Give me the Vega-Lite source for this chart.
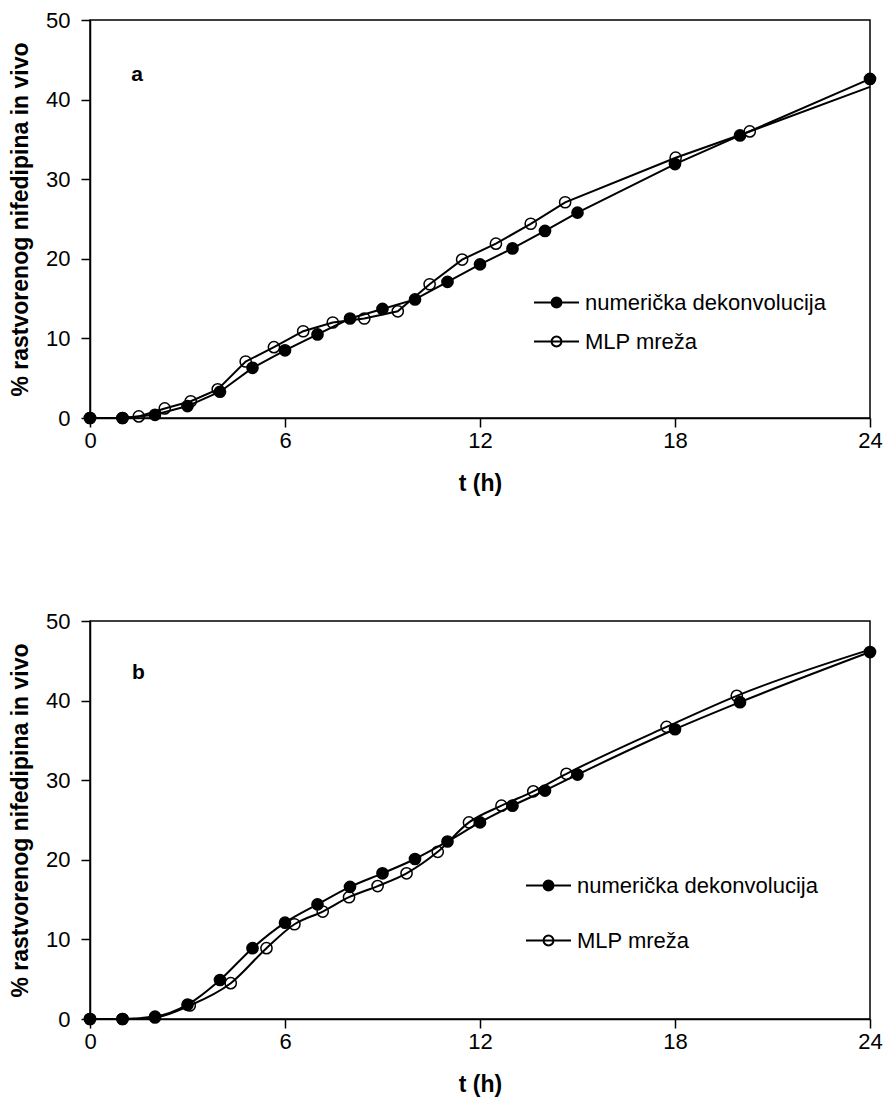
{
  "$schema": "https://vega.github.io/schema/vega-lite/v6.json",
  "background": "white",
  "padding": {"left": 8, "top": 8, "right": 15, "bottom": 5},
  "config": {
    "font": "Liberation Sans",
    "view": {"stroke": "black", "strokeWidth": 1.5},
    "axis": {
      "domainColor": "black", "domainWidth": 1.5, "tickColor": "black", "tickWidth": 1.5, "tickSize": 9,
      "labelColor": "black", "labelFontSize": 22, "labelFont": "Liberation Sans", "labelFlush": false, "labelOverlap": false,
      "titleColor": "black", "titleFontSize": 23, "titleFontWeight": "bold", "titleFont": "Liberation Sans", "grid": false
    }
  },
  "datasets": {
    "d": [
      {"panel": "a", "series": "MLP mreža", "t": 0, "y": 0},
      {"panel": "a", "series": "MLP mreža", "t": 1, "y": 0},
      {"panel": "a", "series": "MLP mreža", "t": 1.5, "y": 0.2},
      {"panel": "a", "series": "MLP mreža", "t": 2.3, "y": 1.2},
      {"panel": "a", "series": "MLP mreža", "t": 3.1, "y": 2.1},
      {"panel": "a", "series": "MLP mreža", "t": 3.93, "y": 3.6},
      {"panel": "a", "series": "MLP mreža", "t": 4.79, "y": 7.1},
      {"panel": "a", "series": "MLP mreža", "t": 5.66, "y": 8.9},
      {"panel": "a", "series": "MLP mreža", "t": 6.56, "y": 10.9},
      {"panel": "a", "series": "MLP mreža", "t": 7.47, "y": 12.0},
      {"panel": "a", "series": "MLP mreža", "t": 8.44, "y": 12.5},
      {"panel": "a", "series": "MLP mreža", "t": 9.47, "y": 13.4},
      {"panel": "a", "series": "MLP mreža", "t": 10.45, "y": 16.8},
      {"panel": "a", "series": "MLP mreža", "t": 11.45, "y": 19.9},
      {"panel": "a", "series": "MLP mreža", "t": 12.49, "y": 21.9},
      {"panel": "a", "series": "MLP mreža", "t": 13.56, "y": 24.4},
      {"panel": "a", "series": "MLP mreža", "t": 14.62, "y": 27.1},
      {"panel": "a", "series": "MLP mreža", "t": 18.02, "y": 32.7},
      {"panel": "a", "series": "MLP mreža", "t": 20.3, "y": 36.0},
      {"panel": "a", "series": "MLP mreža", "t": 24, "y": 41.6},
      {"panel": "a", "series": "numerička dekonvolucija", "t": 0, "y": 0},
      {"panel": "a", "series": "numerička dekonvolucija", "t": 1, "y": 0},
      {"panel": "a", "series": "numerička dekonvolucija", "t": 2, "y": 0.4},
      {"panel": "a", "series": "numerička dekonvolucija", "t": 3, "y": 1.5},
      {"panel": "a", "series": "numerička dekonvolucija", "t": 4, "y": 3.3},
      {"panel": "a", "series": "numerička dekonvolucija", "t": 5, "y": 6.3},
      {"panel": "a", "series": "numerička dekonvolucija", "t": 6, "y": 8.5},
      {"panel": "a", "series": "numerička dekonvolucija", "t": 7, "y": 10.5},
      {"panel": "a", "series": "numerička dekonvolucija", "t": 8, "y": 12.5},
      {"panel": "a", "series": "numerička dekonvolucija", "t": 9, "y": 13.7},
      {"panel": "a", "series": "numerička dekonvolucija", "t": 10, "y": 14.9},
      {"panel": "a", "series": "numerička dekonvolucija", "t": 11, "y": 17.1},
      {"panel": "a", "series": "numerička dekonvolucija", "t": 12, "y": 19.3},
      {"panel": "a", "series": "numerička dekonvolucija", "t": 13, "y": 21.3},
      {"panel": "a", "series": "numerička dekonvolucija", "t": 14, "y": 23.5},
      {"panel": "a", "series": "numerička dekonvolucija", "t": 15, "y": 25.8},
      {"panel": "a", "series": "numerička dekonvolucija", "t": 18, "y": 31.9},
      {"panel": "a", "series": "numerička dekonvolucija", "t": 20, "y": 35.5},
      {"panel": "a", "series": "numerička dekonvolucija", "t": 24, "y": 42.6},
      {"panel": "b", "series": "MLP mreža", "t": 0, "y": 0},
      {"panel": "b", "series": "MLP mreža", "t": 1, "y": 0},
      {"panel": "b", "series": "MLP mreža", "t": 2, "y": 0.2},
      {"panel": "b", "series": "MLP mreža", "t": 3.07, "y": 1.7},
      {"panel": "b", "series": "MLP mreža", "t": 4.33, "y": 4.5},
      {"panel": "b", "series": "MLP mreža", "t": 5.43, "y": 8.9},
      {"panel": "b", "series": "MLP mreža", "t": 6.29, "y": 11.9},
      {"panel": "b", "series": "MLP mreža", "t": 7.16, "y": 13.5},
      {"panel": "b", "series": "MLP mreža", "t": 7.97, "y": 15.3},
      {"panel": "b", "series": "MLP mreža", "t": 8.85, "y": 16.7},
      {"panel": "b", "series": "MLP mreža", "t": 9.74, "y": 18.3},
      {"panel": "b", "series": "MLP mreža", "t": 10.7, "y": 21.0},
      {"panel": "b", "series": "MLP mreža", "t": 11.66, "y": 24.7},
      {"panel": "b", "series": "MLP mreža", "t": 12.66, "y": 26.8},
      {"panel": "b", "series": "MLP mreža", "t": 13.64, "y": 28.6},
      {"panel": "b", "series": "MLP mreža", "t": 14.66, "y": 30.8},
      {"panel": "b", "series": "MLP mreža", "t": 17.74, "y": 36.7},
      {"panel": "b", "series": "MLP mreža", "t": 19.9, "y": 40.6},
      {"panel": "b", "series": "MLP mreža", "t": 24, "y": 46.4},
      {"panel": "b", "series": "numerička dekonvolucija", "t": 0, "y": 0},
      {"panel": "b", "series": "numerička dekonvolucija", "t": 1, "y": 0},
      {"panel": "b", "series": "numerička dekonvolucija", "t": 2, "y": 0.3},
      {"panel": "b", "series": "numerička dekonvolucija", "t": 3, "y": 1.8},
      {"panel": "b", "series": "numerička dekonvolucija", "t": 4, "y": 4.9},
      {"panel": "b", "series": "numerička dekonvolucija", "t": 5, "y": 8.9},
      {"panel": "b", "series": "numerička dekonvolucija", "t": 6, "y": 12.1},
      {"panel": "b", "series": "numerička dekonvolucija", "t": 7, "y": 14.4},
      {"panel": "b", "series": "numerička dekonvolucija", "t": 8, "y": 16.6},
      {"panel": "b", "series": "numerička dekonvolucija", "t": 9, "y": 18.3},
      {"panel": "b", "series": "numerička dekonvolucija", "t": 10, "y": 20.1},
      {"panel": "b", "series": "numerička dekonvolucija", "t": 11, "y": 22.3},
      {"panel": "b", "series": "numerička dekonvolucija", "t": 12, "y": 24.7},
      {"panel": "b", "series": "numerička dekonvolucija", "t": 13, "y": 26.8},
      {"panel": "b", "series": "numerička dekonvolucija", "t": 14, "y": 28.7},
      {"panel": "b", "series": "numerička dekonvolucija", "t": 15, "y": 30.7},
      {"panel": "b", "series": "numerička dekonvolucija", "t": 18, "y": 36.4},
      {"panel": "b", "series": "numerička dekonvolucija", "t": 20, "y": 39.8},
      {"panel": "b", "series": "numerička dekonvolucija", "t": 24, "y": 46.1}
    ]
  },
  "spacing": 113,
  "resolve": {"scale": {"fill": "independent"}, "legend": {"fill": "independent"}},
  "vconcat": [
    {
      "width": 780,
      "height": 398,
      "layer": [
        {
          "data": {"name": "d"},
          "transform": [{"filter": "datum.panel == 'a'"}],
          "mark": {"type": "line", "stroke": "black", "strokeWidth": 2},
          "encoding": {
            "x": {"field": "t", "type": "quantitative", "scale": {"domain": [0, 24], "nice": false}, "axis": {"values": [0, 6, 12, 18, 24], "title": "t (h)", "labelPadding": 3, "titlePadding": 21}},
            "y": {"field": "y", "type": "quantitative", "scale": {"domain": [0, 50], "nice": false}, "axis": {"values": [0, 10, 20, 30, 40, 50], "title": "% rastvorenog nifedipina in vivo", "labelPadding": 11, "titlePadding": 13}},
            "detail": {"field": "series"}
          }
        },
        {
          "data": {"name": "d"},
          "transform": [{"filter": "datum.panel == 'a'"}, {"filter": "datum.series == 'numerička dekonvolucija' || datum.t < 24"}],
          "mark": {"type": "point", "shape": "circle", "filled": false, "stroke": "black", "strokeWidth": 1.5, "opacity": 1, "size": 125},
          "encoding": {
            "x": {"field": "t", "type": "quantitative"},
            "y": {"field": "y", "type": "quantitative"},
            "fill": {
              "field": "series", "type": "nominal",
              "scale": {"domain": ["numerička dekonvolucija", "MLP mreža"], "range": ["black", "transparent"]},
              "legend": {
                "title": null, "orient": "none", "legendX": 443, "legendY": 259,
                "symbolType": "M-1,0L1,0M0.22,0A0.22,0.22,0,1,1,-0.22,0A0.22,0.22,0,1,1,0.22,0Z",
                "symbolSize": 2025, "symbolStrokeWidth": 2, "symbolStrokeColor": "black",
                "labelFontSize": 22, "labelFont": "Liberation Sans", "labelColor": "black", "labelOffset": 5,
                "rowPadding": 4, "padding": 0, "labelLimit": 400
              }
            }
          }
        },
        {
          "data": {"values": [{"label": "a"}]},
          "mark": {"type": "text", "fontSize": 21, "fontWeight": "bold", "color": "black", "align": "center", "baseline": "middle"},
          "encoding": {
            "x": {"datum": 1.45, "type": "quantitative"},
            "y": {"datum": 43.1, "type": "quantitative"},
            "text": {"field": "label"}
          }
        }
      ]
    },
    {
      "width": 780,
      "height": 398,
      "layer": [
        {
          "data": {"name": "d"},
          "transform": [{"filter": "datum.panel == 'b'"}],
          "mark": {"type": "line", "stroke": "black", "strokeWidth": 2, "interpolate": "monotone"},
          "encoding": {
            "x": {"field": "t", "type": "quantitative", "scale": {"domain": [0, 24], "nice": false}, "axis": {"values": [0, 6, 12, 18, 24], "title": "t (h)", "labelPadding": 3, "titlePadding": 21}},
            "y": {"field": "y", "type": "quantitative", "scale": {"domain": [0, 50], "nice": false}, "axis": {"values": [0, 10, 20, 30, 40, 50], "title": "% rastvorenog nifedipina in vivo", "labelPadding": 11, "titlePadding": 13}},
            "detail": {"field": "series"}
          }
        },
        {
          "data": {"name": "d"},
          "transform": [{"filter": "datum.panel == 'b'"}, {"filter": "datum.series == 'numerička dekonvolucija' || datum.t < 24"}],
          "mark": {"type": "point", "shape": "circle", "filled": false, "stroke": "black", "strokeWidth": 1.5, "opacity": 1, "size": 125},
          "encoding": {
            "x": {"field": "t", "type": "quantitative"},
            "y": {"field": "y", "type": "quantitative"},
            "fill": {
              "field": "series", "type": "nominal",
              "scale": {"domain": ["numerička dekonvolucija", "MLP mreža"], "range": ["black", "transparent"]},
              "legend": {
                "title": null, "orient": "none", "legendX": 435, "legendY": 241,
                "symbolType": "M-1,0L1,0M0.22,0A0.22,0.22,0,1,1,-0.22,0A0.22,0.22,0,1,1,0.22,0Z",
                "symbolSize": 2025, "symbolStrokeWidth": 2, "symbolStrokeColor": "black",
                "labelFontSize": 22, "labelFont": "Liberation Sans", "labelColor": "black", "labelOffset": 5,
                "rowPadding": 20, "padding": 0, "labelLimit": 400
              }
            }
          }
        },
        {
          "data": {"values": [{"label": "b"}]},
          "mark": {"type": "text", "fontSize": 21, "fontWeight": "bold", "color": "black", "align": "center", "baseline": "middle"},
          "encoding": {
            "x": {"datum": 1.49, "type": "quantitative"},
            "y": {"datum": 43.5, "type": "quantitative"},
            "text": {"field": "label"}
          }
        }
      ]
    }
  ]
}
